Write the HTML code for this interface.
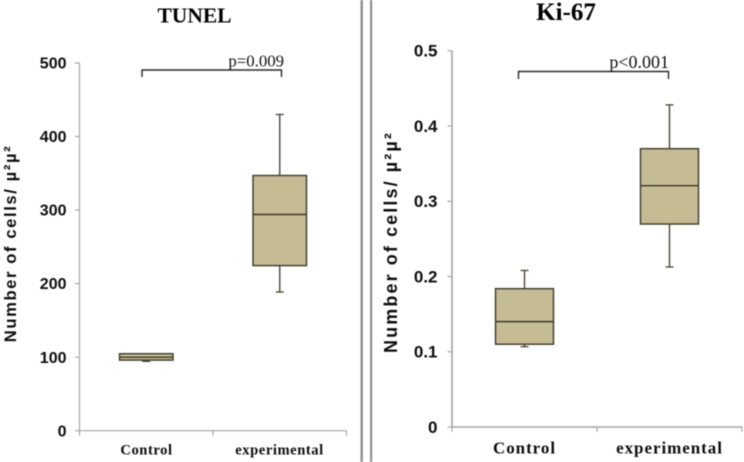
<!DOCTYPE html>
<html>
<head>
<meta charset="utf-8">
<title>TUNEL and Ki-67 box plots</title>
<style>
html,body{margin:0;padding:0;background:#fff;width:744px;height:462px;overflow:hidden}
svg{display:block;filter:blur(.4px)}
.tick{font-family:"Liberation Sans",sans-serif;font-weight:bold;fill:#0d0d0d;text-anchor:end}
.cat{font-family:"Liberation Serif",serif;font-weight:bold;fill:#0d0d0d;text-anchor:middle}
.title{font-family:"Liberation Serif",serif;font-weight:bold;fill:#000;text-anchor:middle}
.p{font-family:"Liberation Serif",serif;fill:#111;text-anchor:end}
.yt{font-family:"Liberation Sans",sans-serif;font-weight:bold;fill:#0d0d0d;text-anchor:middle}
</style>
</head>
<body>
<svg id="fig" width="744" height="462" viewBox="0 0 744 462" xmlns="http://www.w3.org/2000/svg">
<rect x="360.5" y="0" width="2.4" height="462" fill="#8f8f8f"/>
<rect x="370" y="0" width="2.2" height="462" fill="#8f8f8f"/>
</svg>
<script>
var categories = ['Control', 'experimental'];

var tunelTicks = [0, 100, 200, 300, 400, 500];
var tunelTickLabels = ['0', '100', '200', '300', '400', '500'];
var tunelLow = [94.3, 188.6];
var tunelQ1 = [96, 224.5];
var tunelMedian = [100, 294];
var tunelQ3 = [104.7, 347];
var tunelHigh = [104.7, 430];

var kiTicks = [0, 0.1, 0.2, 0.3, 0.4, 0.5];
var kiTickLabels = ['0', '0.1', '0.2', '0.3', '0.4', '0.5'];
var kiLow = [0.1067, 0.2126];
var kiQ1 = [0.11, 0.2697];
var kiMedian = [0.14, 0.3206];
var kiQ3 = [0.1838, 0.3698];
var kiHigh = [0.208, 0.428];

var NS = 'http://www.w3.org/2000/svg';
var svg = document.getElementById('fig');

function shape(tag, attrs, parent, name) {
  var el = document.createElementNS(NS, tag);
  for (var k in attrs) el.setAttribute(k, attrs[k]);
  
  
  (parent || svg).appendChild(el);
  return el;
}
function label(cls, x, y, str, parent, name, size, spacing, transform) {
  var a = {'class': cls, x: x, y: y, 'font-size': size, 'letter-spacing': spacing};
  if (transform) a.transform = transform;
  var el = shape('text', a, parent, name);
  el.textContent = str;
  return el;
}

function panel(o) {
  var g = shape('g', {}, svg, o.id + '-panel');
  var yOf = function (v) { return o.y0 + (v / o.yMax) * (o.yTop - o.y0); };
  var n = categories.length;
  var band = (o.x1 - o.x0) / n;
  var xOf = function (i) { return o.x0 + band * (i + 0.5) + o.shift[i]; };
  var axis = '#a6a6a6';

  shape('line', {x1: o.x0, x2: o.x0, y1: yOf(o.ticks[o.ticks.length - 1]), y2: o.y0, stroke: axis, 'stroke-width': o.axisW}, g, 'y-axis');
  shape('line', {x1: o.x0, x2: o.x1, y1: o.y0, y2: o.y0, stroke: axis, 'stroke-width': o.axisW}, g, 'x-axis');

  o.ticks.forEach(function (t, i) {
    var y = yOf(t);
    shape('line', {x1: o.x0 - 4.5, x2: o.x0, y1: y, y2: y, stroke: axis, 'stroke-width': 1.2}, g, 'y-tick');
    label('tick', o.tickX, y + o.tickDy, o.labels[i], g, 'y-tick-label', o.tickSize, 0);
  });
  for (var c = 0; c <= n; c++) {
    var tx = o.x0 + band * c;
    shape('line', {x1: tx, x2: tx, y1: o.y0, y2: o.y0 + 5, stroke: axis, 'stroke-width': 1.2}, g, 'x-tick');
  }

  var stroke = '#3d3829';
  categories.forEach(function (cat, i) {
    var b = shape('g', {}, g, 'box-' + cat.toLowerCase());
    var cx = xOf(i), hw = o.boxW / 2;
    shape('line', {x1: cx, x2: cx, y1: yOf(o.high[i]), y2: yOf(o.q3[i]), stroke: stroke, 'stroke-width': 1.3}, b, 'upper-whisker');
    shape('line', {x1: cx, x2: cx, y1: yOf(o.q1[i]), y2: yOf(o.low[i]), stroke: stroke, 'stroke-width': 1.3}, b, 'lower-whisker');
    shape('line', {x1: cx - 4, x2: cx + 4, y1: yOf(o.high[i]), y2: yOf(o.high[i]), stroke: stroke, 'stroke-width': 1.2}, b, 'upper-cap');
    shape('line', {x1: cx - 4, x2: cx + 4, y1: yOf(o.low[i]), y2: yOf(o.low[i]), stroke: stroke, 'stroke-width': 1.2}, b, 'lower-cap');
    shape('rect', {x: cx - hw, y: yOf(o.q3[i]), width: o.boxW, height: yOf(o.q1[i]) - yOf(o.q3[i]), fill: '#c5bc94', stroke: stroke, 'stroke-width': 1.4}, b, 'interquartile-box');
    shape('line', {x1: cx - hw, x2: cx + hw, y1: yOf(o.median[i]), y2: yOf(o.median[i]), stroke: stroke, 'stroke-width': 1.4}, b, 'median-line');
    label('cat', o.catX[i], o.catY, cat, g, 'category-label', o.catSize, o.catSpacing);
  });

  label('title', o.titleX, o.titleY, o.id === 'tunel' ? 'TUNEL' : 'Ki-67', g, 'chart-title', o.titleSize, 0);
  label('yt', o.ytX, o.ytY, 'Number of cells/ \u00B5\u00B2\u00B5\u00B2', g, 'y-axis-title', o.ytSize, o.ytSpacing, 'rotate(-90 ' + o.ytX + ' ' + o.ytY + ')');

  shape('path', {d: 'M' + o.br[0] + ' ' + o.br[3] + 'V' + o.br[2] + 'H' + o.br[1] + 'V' + o.br[3], fill: 'none', stroke: '#2a2a2a', 'stroke-width': 1.4}, g, 'significance-bracket');
  label('p', o.pX, o.pY, o.pText, g, 'p-value', o.pSize, 0);
}

panel({
  id: 'tunel', x0: 79.5, x1: 346.5, y0: 430.7, yTop: 63, yMax: 500, axisW: 1.2,
  ticks: tunelTicks, labels: tunelTickLabels, tickX: 66.5, tickDy: 5.6, tickSize: 16,
  low: tunelLow, q1: tunelQ1, median: tunelMedian, q3: tunelQ3, high: tunelHigh,
  shift: [0, 0], boxW: 53.5, catX: [146.5, 279.5], catY: 454.5, catSize: 14.6, catSpacing: 0.55,
  titleX: 194.5, titleY: 22.5, titleSize: 21.5, ytX: 16, ytY: 243.5, ytSize: 16.6, ytSpacing: 1.6,
  br: [142, 281.5, 70, 77], pX: 284, pY: 66.5, pSize: 16.8, pText: 'p=0.009'
});
panel({
  id: 'ki', x0: 452, x1: 742, y0: 427, yTop: 50.7, yMax: 0.5, axisW: 1.6,
  ticks: kiTicks, labels: kiTickLabels, tickX: 437.5, tickDy: 6, tickSize: 17,
  low: kiLow, q1: kiQ1, median: kiMedian, q3: kiQ3, high: kiHigh,
  shift: [0, 0], boxW: 58, catX: [524.5, 669.5], catY: 453.5, catSize: 17, catSpacing: 0.95,
  titleX: 566, titleY: 20, titleSize: 25, ytX: 397, ytY: 242, ytSize: 18, ytSpacing: 2.1,
  br: [518.5, 668.5, 71.5, 79], pX: 669, pY: 68, pSize: 18, pText: 'p<0.001'
});
</script>
</body>
</html>
